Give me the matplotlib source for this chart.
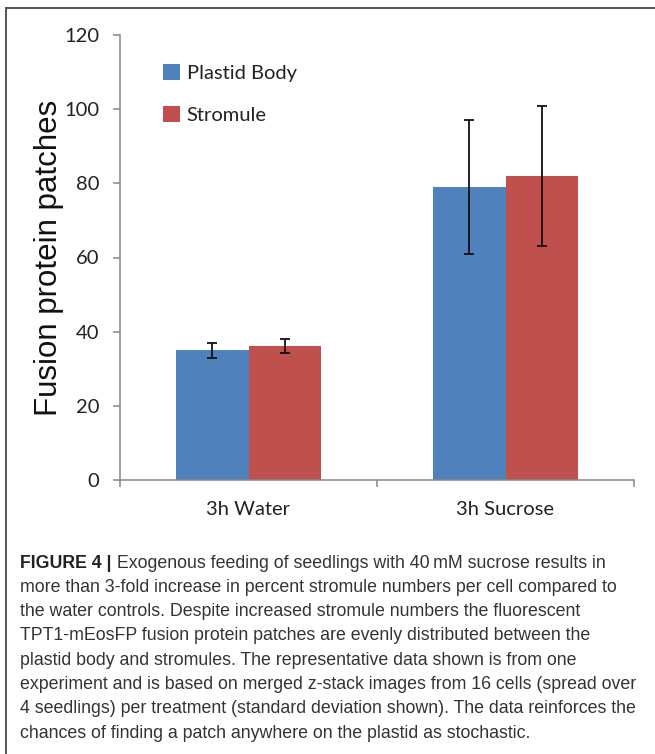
import matplotlib
matplotlib.use("Agg")
import matplotlib.pyplot as plt
from matplotlib.patches import Patch
from matplotlib.lines import Line2D
import numpy as np

categories = ["3h Water", "3h Sucrose"]
series_names = ["Plastid Body", "Stromule"]
plastid_body = [35.0, 79.0]
plastid_err = [2.0, 18.1]
stromule = [36.1, 82.0]
stromule_err = [1.9, 18.8]
yticks = [0, 20, 40, 60, 80, 100, 120]

caption_bold = "FIGURE 4 |"
caption_lines = [
    " Exogenous feeding of seedlings with 40\u2009mM sucrose results in",
    "more than 3-fold increase in percent stromule numbers per cell compared to",
    "the water controls. Despite increased stromule numbers the fluorescent",
    "TPT1-mEosFP fusion protein patches are evenly distributed between the",
    "plastid body and stromules. The representative data shown is from one",
    "experiment and is based on merged z-stack images from 16 cells (spread over",
    "4 seedlings) per treatment (standard deviation shown). The data reinforces the",
    "chances of finding a patch anywhere on the plastid as stochastic.",
]

W, H = 655, 754
fig = plt.figure(figsize=(W / 100, H / 100), dpi=100)
fig.patch.set_facecolor("white")

ax = fig.add_axes([120 / W, 1 - 480 / H, 514 / W, 445 / H])

blue = "#4F81BD"
red = "#C0504D"
axis_col = "#868686"
tick_font = ["Lato", "DejaVu Sans"]

x = np.arange(len(categories))
w = 0.284
ax.bar(x - w / 2, plastid_body, width=w, color=blue, edgecolor="none", zorder=2)
ax.bar(x + w / 2, stromule, width=w, color=red, edgecolor="none", zorder=2)
ax.errorbar(x - w / 2, plastid_body, yerr=plastid_err, fmt="none", ecolor="#111111",
            elinewidth=1.3, capsize=3.6, capthick=1.3, zorder=3)
ax.errorbar(x + w / 2, stromule, yerr=stromule_err, fmt="none", ecolor="#111111",
            elinewidth=1.3, capsize=3.6, capthick=1.3, zorder=3)

ax.set_xlim(-0.5, len(categories) - 0.5)
ax.set_ylim(0, 120)
ax.set_yticks(yticks)
ax.set_yticklabels([str(v) for v in yticks], fontsize=14.5, family=tick_font, color="#222222")
ax.set_xticks(x)
ax.set_xticklabels(categories, fontsize=14.5, family=tick_font, color="#222222")
ax.set_xticks(np.arange(len(categories) + 1) - 0.5, minor=True)
ax.tick_params(axis="x", which="major", length=0, pad=15)
ax.tick_params(axis="x", which="minor", length=5, width=1.1, color=axis_col, direction="out")
ax.tick_params(axis="y", length=5, width=1.1, color=axis_col, direction="out", pad=10)

for s in ["top", "right"]:
    ax.spines[s].set_visible(False)
for s in ["left", "bottom"]:
    ax.spines[s].set_color(axis_col)
    ax.spines[s].set_linewidth(1.1)

ax.set_ylabel("Fusion protein patches", fontsize=22.5, family=["Liberation Sans", "DejaVu Sans"],
              color="#111111", labelpad=0)

handles = [Patch(facecolor=blue, edgecolor="none"), Patch(facecolor=red, edgecolor="none")]
leg = ax.legend(handles, series_names, loc="upper left", bbox_to_anchor=(0.083, 0.935),
                frameon=False, prop={"family": tick_font, "size": 14.5},
                handlelength=0.85, handleheight=0.85, handletextpad=0.35,
                labelspacing=1.2, borderpad=0, borderaxespad=0)
for t in leg.get_texts():
    t.set_color("#222222")

# Figure frame lines (top and left)
fig.add_artist(Line2D([6 / W, 1.0], [1 - 8 / H, 1 - 8 / H], color="#555555", lw=1.4,
                      transform=fig.transFigure))
fig.add_artist(Line2D([6 / W, 6 / W], [1 - 8 / H, 0.0], color="#555555", lw=1.4,
                      transform=fig.transFigure))

# Caption, sized so the longest line spans the same width as in the figure
cap_font = ["Liberation Sans", "DejaVu Sans"]
probe_size = 12.0
fig.canvas.draw()
renderer = fig.canvas.get_renderer()
probe = fig.text(0, 0, caption_lines[5], fontsize=probe_size, family=cap_font)
pw = probe.get_window_extent(renderer).width
probe.remove()
cap_size = probe_size * 620.0 / pw

y0 = 563
dy = 24.3
tb = fig.text(20 / W, 1 - y0 / H, caption_bold, fontsize=cap_size, family=cap_font,
              weight="bold", va="center", ha="left", color="#222222")
fig.canvas.draw()
bb = tb.get_window_extent()
fig.text(bb.x1 / W, 1 - y0 / H, caption_lines[0], fontsize=cap_size, family=cap_font,
         va="center", ha="left", color="#333333")
for i, line in enumerate(caption_lines[1:], start=1):
    fig.text(20 / W, 1 - (y0 + i * dy) / H, line, fontsize=cap_size, family=cap_font,
             va="center", ha="left", color="#333333")

fig.savefig("out.png", dpi=100, facecolor="white")
